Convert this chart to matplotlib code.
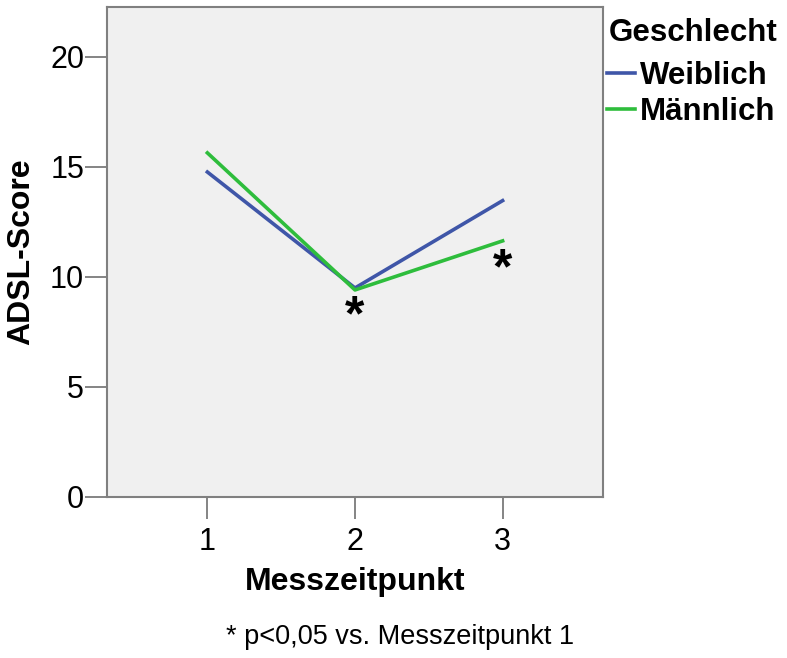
import matplotlib
matplotlib.use("Agg")
from matplotlib import pyplot as plt

plt.rcParams['font.family'] = ['Liberation Sans', 'DejaVu Sans']

# data
messzeit = [1, 2, 3]
weiblich = [14.77, 9.5, 13.47]
maennlich = [15.64, 9.41, 11.64]
signif_x = [2, 3]
signif_y = [8.15, 10.3]

fig = plt.figure(figsize=(7.87, 6.58), dpi=100)
ax = fig.add_axes([107 / 787, 1 - 497 / 658, (603 - 107) / 787, (497 - 7) / 658])
ax.set_facecolor('#f0f0f0')

ax.plot(messzeit, weiblich, color='#3f56a8', lw=2.6, label='Weiblich')
ax.plot(messzeit, maennlich, color='#2ebd3c', lw=2.6, label='Männlich')

for x, y in zip(signif_x, signif_y):
	ax.text(x, y, '*', fontsize=36, fontweight='bold', ha='center', va='center')

ax.set_xlim(0.32, 3.68)
ax.set_ylim(0, 22.27)
ax.set_xticks(messzeit)
ax.set_yticks([0, 5, 10, 15, 20])
ax.tick_params(axis='both', direction='out', length=15.5, width=1.2, color='#707070', labelsize=22)
ax.tick_params(axis='y', pad=1)
ax.tick_params(axis='x', pad=6)
for s in ax.spines.values():
	s.set_color('#808080')
	s.set_linewidth(1.5)

ax.set_xlabel('Messzeitpunkt', fontsize=23, fontweight='bold', labelpad=7)
ax.set_ylabel('ADSL-Score', fontsize=23, fontweight='bold', labelpad=10)

# legend title as its own text, entries below it
fig.text(609 / 787, 1 - 33 / 658, 'Geschlecht', fontsize=22.5, fontweight='bold', ha='left', va='center')
leg = ax.legend(loc='upper left', bbox_to_anchor=(607 / 787, 1 - 61 / 658), bbox_transform=fig.transFigure,
	frameon=False, handlelength=0.9, handletextpad=0.15, borderaxespad=0, borderpad=0, labelspacing=0.2,
	prop={'size': 22.5, 'weight': 'bold'})

fig.text(400 / 787, 1 - 637 / 658, '* p<0,05 vs. Messzeitpunkt 1', fontsize=19.5, ha='center', va='center')

fig.savefig('out.png', dpi=100)
